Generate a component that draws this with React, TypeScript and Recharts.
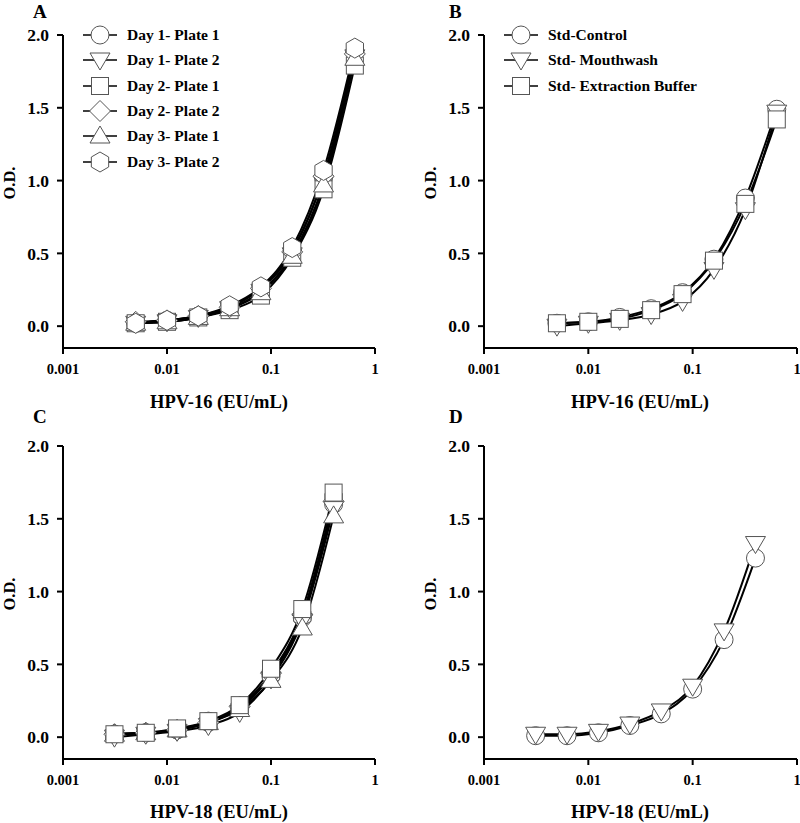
import React from 'react';
import { LineChart, Line, XAxis, YAxis, Legend } from 'recharts';

// ---------- data ----------
const concHPV16 = [0.005, 0.01, 0.02, 0.04, 0.08, 0.16, 0.32, 0.64];
const concHPV18 = [0.003125, 0.00625, 0.0125, 0.025, 0.05, 0.1, 0.2, 0.4];

const xTicks = [0.001, 0.01, 0.1, 1];
const yTicks = [0, 0.5, 1.0, 1.5, 2.0];

const namesA = ['Day 1- Plate 1', 'Day 1- Plate 2', 'Day 2- Plate 1', 'Day 2- Plate 2', 'Day 3- Plate 1', 'Day 3- Plate 2'];
const shapesA = ['circle', 'triangleDown', 'square', 'diamond', 'triangleUp', 'hexagon'];
const a_d1p1 = [0.02, 0.04, 0.07, 0.13, 0.26, 0.52, 1.02, 1.88];
const a_d1p2 = [0.02, 0.03, 0.06, 0.12, 0.24, 0.49, 0.98, 1.85];
const a_d2p1 = [0.02, 0.03, 0.06, 0.11, 0.21, 0.47, 0.94, 1.79];
const a_d2p2 = [0.03, 0.04, 0.07, 0.13, 0.26, 0.51, 1.03, 1.87];
const a_d3p1 = [0.02, 0.03, 0.06, 0.12, 0.23, 0.48, 0.97, 1.84];
const a_d3p2 = [0.02, 0.04, 0.07, 0.14, 0.27, 0.54, 1.07, 1.91];

const namesB = ['Std-Control', 'Std- Mouthwash', 'Std- Extraction Buffer'];
const shapesB = ['circle', 'triangleDown', 'square'];
const b_control = [0.02, 0.03, 0.06, 0.12, 0.23, 0.46, 0.88, 1.49];
const b_mouthwash = [0.0, 0.02, 0.04, 0.08, 0.17, 0.39, 0.8, 1.47];
const b_buffer = [0.02, 0.03, 0.05, 0.11, 0.22, 0.45, 0.84, 1.42];

const namesC = ['Day 1- Plate 1', 'Day 3- Plate 2', 'Day 2- Plate 2', 'Day 1- Plate 2', 'Day 3- Plate 1', 'Day 2- Plate 1'];
const shapesC = ['circle', 'hexagon', 'diamond', 'triangleDown', 'triangleUp', 'square'];
const c_d1p1 = [0.02, 0.03, 0.05, 0.11, 0.2, 0.42, 0.82, 1.6];
const c_d3p2 = [0.02, 0.03, 0.05, 0.1, 0.2, 0.43, 0.83, 1.64];
const c_d2p2 = [0.02, 0.03, 0.05, 0.1, 0.21, 0.44, 0.84, 1.62];
const c_d1p2 = [0.0, 0.02, 0.04, 0.08, 0.17, 0.4, 0.8, 1.57];
const c_d3p1 = [0.02, 0.03, 0.05, 0.1, 0.19, 0.39, 0.75, 1.52];
const c_d2p1 = [0.02, 0.03, 0.06, 0.11, 0.22, 0.47, 0.88, 1.68];

const namesD = ['Std-Control', 'Std- Mouthwash'];
const shapesD = ['circle', 'triangleDown'];
const d_control = [0.01, 0.01, 0.03, 0.08, 0.16, 0.33, 0.67, 1.23];
const d_mouthwash = [0.02, 0.02, 0.04, 0.09, 0.18, 0.35, 0.73, 1.33];

const buildRows = (conc: number[], series: number[][]) =>
  conc.map((x, i) => {
    const row: Record<string, number> = { x };
    series.forEach((s, k) => {
      row['s' + k] = s[i];
    });
    return row;
  });

// ---------- styles ----------
const FONT = '"Liberation Serif", "Times New Roman", serif';

function Marker({ shape, cx, cy }: { shape: string; cx: number; cy: number }) {
  const st = { fill: '#fff', stroke: '#555', strokeWidth: 1 };
  if (cx == null || cy == null || isNaN(cx) || isNaN(cy)) return null;
  switch (shape) {
    case 'circle':
      return <circle cx={cx} cy={cy} r={9} {...st} />;
    case 'square':
      return <rect x={cx - 8.5} y={cy - 8.5} width={17} height={17} {...st} />;
    case 'triangleDown':
      return <polygon points={`${cx - 10},${cy - 7} ${cx + 10},${cy - 7} ${cx},${cy + 10}`} {...st} />;
    case 'triangleUp':
      return <polygon points={`${cx - 10},${cy + 7} ${cx + 10},${cy + 7} ${cx},${cy - 10}`} {...st} />;
    case 'diamond':
      return <polygon points={`${cx},${cy - 10.5} ${cx + 10.5},${cy} ${cx},${cy + 10.5} ${cx - 10.5},${cy}`} {...st} />;
    case 'hexagon': {
      const r = 10;
      const pts = [-90, -30, 30, 90, 150, 210]
        .map((a) => {
          const t = (a * Math.PI) / 180;
          return `${cx + r * Math.cos(t)},${cy + r * Math.sin(t)}`;
        })
        .join(' ');
      return <polygon points={pts} {...st} />;
    }
    default:
      return null;
  }
}

function makeLegend(names: string[], shapes: string[]) {
  return (props: any) => {
    const payload = [...(props.payload || [])].sort(
      (p: any, q: any) => names.indexOf(p.value) - names.indexOf(q.value)
    );
    return (
      <div style={{ fontFamily: FONT, fontWeight: 'bold', fontSize: 15.5, color: '#000' }}>
        {payload.map((entry: any, i: number) => {
          const idx = names.indexOf(entry.value);
          const shape = shapes[idx >= 0 ? idx : i];
          return (
            <div key={i} style={{ display: 'flex', alignItems: 'center', height: 25.3 }}>
              <svg width={34} height={24} style={{ display: 'block' }}>
                <line x1={0} y1={12} x2={34} y2={12} stroke="#000" strokeWidth={1.5} />
                <Marker shape={shape} cx={17} cy={12} />
              </svg>
              <span style={{ marginLeft: 10, whiteSpace: 'nowrap' }}>{entry.value}</span>
            </div>
          );
        })}
      </div>
    );
  };
}

type PanelProps = {
  left: number;
  top: number;
  marginLeft: number;
  marginRight: number;
  rows: Record<string, number>[];
  names: string[];
  shapes: string[];
  showLegend: boolean;
  legendLeft?: number;
};

function Panel({ left, top, marginLeft, marginRight, rows, names, shapes, showLegend, legendLeft }: PanelProps) {
  const axisStroke = { stroke: '#000', strokeWidth: 2 };
  return (
    <div style={{ position: 'absolute', left, top }}>
      <LineChart
        width={400}
        height={410}
        data={rows}
        margin={{ top: 35, right: marginRight, left: marginLeft, bottom: 32 }}
      >
        <XAxis
          dataKey="x"
          type="number"
          scale="log"
          domain={[0.001, 1]}
          allowDataOverflow
          ticks={xTicks}
          tickFormatter={(v: number) => String(v)}
          axisLine={axisStroke}
          tickLine={axisStroke}
          tickSize={6}
          tickMargin={10}
          height={30}
          interval={0}
          tick={{ fill: '#000', fontSize: 14.5, fontWeight: 'bold', fontFamily: FONT }}
        />
        <YAxis
          type="number"
          domain={[-0.15, 2]}
          allowDataOverflow
          ticks={yTicks}
          tickFormatter={(v: number) => v.toFixed(1)}
          axisLine={axisStroke}
          tickLine={axisStroke}
          tickSize={6}
          tickMargin={8}
          width={53}
          interval={0}
          tick={{ fill: '#000', fontSize: 17.5, fontWeight: 'bold', fontFamily: FONT }}
        />
        {showLegend && (
          <Legend
            layout="vertical"
            align="center"
            verticalAlign="middle"
            itemSorter={null as any}
            content={makeLegend(names, shapes)}
            wrapperStyle={{ top: 22.5, left: legendLeft, width: 'auto' }}
          />
        )}
        {names.map((n, k) => (
          <Line
            key={k}
            dataKey={'s' + k}
            name={n}
            type="monotone"
            stroke="#000"
            strokeWidth={2}
            isAnimationActive={false}
            dot={(p: any) => <Marker key={'d' + k + '-' + p.index} shape={shapes[k]} cx={p.cx} cy={p.cy} />}
            activeDot={false}
            legendType="line"
          />
        ))}
      </LineChart>
    </div>
  );
}

const rowsA = buildRows(concHPV16, [a_d1p1, a_d1p2, a_d2p1, a_d2p2, a_d3p1, a_d3p2]);
const rowsB = buildRows(concHPV16, [b_control, b_mouthwash, b_buffer]);
const rowsC = buildRows(concHPV18, [c_d1p1, c_d3p2, c_d2p2, c_d1p2, c_d3p1, c_d2p1]);
const rowsD = buildRows(concHPV18, [d_control, d_mouthwash]);

const textStyle = { fontFamily: FONT, fontWeight: 'bold' as const, fill: '#000' };

export default function App() {
  return (
    <div style={{ position: 'absolute', left: 0, top: 0, width: 800, height: 823, background: '#fff', overflow: 'hidden' }}>
      <Panel left={0} top={0} marginLeft={10} marginRight={25} rows={rowsA} names={namesA} shapes={shapesA} showLegend legendLeft={83} />
      <Panel left={400} top={0} marginLeft={31} marginRight={3} rows={rowsB} names={namesB} shapes={shapesB} showLegend legendLeft={104} />
      <Panel left={0} top={411} marginLeft={10} marginRight={25} rows={rowsC} names={namesC} shapes={shapesC} showLegend={false} />
      <Panel left={400} top={411} marginLeft={31} marginRight={3} rows={rowsD} names={namesD} shapes={shapesD} showLegend={false} />
      <svg width={800} height={823} style={{ position: 'absolute', left: 0, top: 0, pointerEvents: 'none' }}>
        <text x={33} y={18} fontSize={19} {...textStyle}>A</text>
        <text x={449} y={18} fontSize={19} {...textStyle}>B</text>
        <text x={33} y={423} fontSize={19} {...textStyle}>C</text>
        <text x={449} y={423} fontSize={19} {...textStyle}>D</text>

        <text x={219} y={408} fontSize={18.5} textAnchor="middle" {...textStyle}>HPV-16 (EU/mL)</text>
        <text x={640} y={408} fontSize={18.5} textAnchor="middle" {...textStyle}>HPV-16 (EU/mL)</text>
        <text x={219} y={818} fontSize={18.5} textAnchor="middle" {...textStyle}>HPV-18 (EU/mL)</text>
        <text x={640} y={818} fontSize={18.5} textAnchor="middle" {...textStyle}>HPV-18 (EU/mL)</text>

        <text x={15} y={183} fontSize={16.5} textAnchor="middle" transform="rotate(-90 15 183)" {...textStyle}>O.D.</text>
        <text x={436} y={183} fontSize={16.5} textAnchor="middle" transform="rotate(-90 436 183)" {...textStyle}>O.D.</text>
        <text x={15} y={594} fontSize={16.5} textAnchor="middle" transform="rotate(-90 15 594)" {...textStyle}>O.D.</text>
        <text x={436} y={594} fontSize={16.5} textAnchor="middle" transform="rotate(-90 436 594)" {...textStyle}>O.D.</text>
      </svg>
    </div>
  );
}
